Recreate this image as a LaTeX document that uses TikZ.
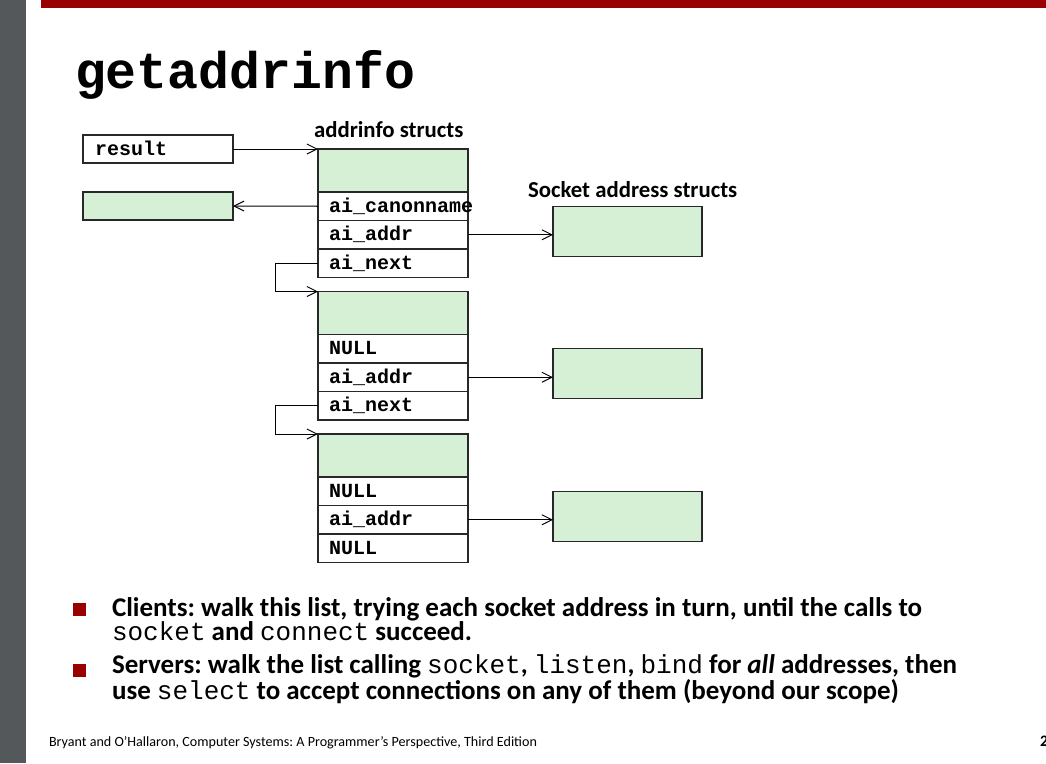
\documentclass[tikz,border=0pt]{standalone}
\usepackage{fontspec}
\setmainfont{Carlito}
\newfontfamily\codefont{Liberation Mono}
\usepackage{tikz}
\usetikzlibrary{positioning, arrows.meta}
\definecolor{boxgreen}{RGB}{213,240,212}
\definecolor{slidered}{RGB}{153,0,0}
\definecolor{sidegray}{RGB}{84,88,91}
\definecolor{boxline}{RGB}{40,40,40}
\newcommand{\code}[1]{{\codefont\mdseries\fontsize{26}{24}\selectfont #1}}
\frenchspacing

\begin{document}
\begin{tikzpicture}[x=1pt,y=-1pt,>={Straight Barb[length=10pt,width=10pt]},node distance=0pt,line width=1pt]
    \tikzstyle{every node}=[outer sep=0pt]
    \tikzstyle{cell}=[draw=boxline,line width=1.3pt,minimum height=28.5pt,inner xsep=11pt,inner ysep=0pt,text width=128pt,align=left,text height=14pt,text depth=2pt,font=\codefont\bfseries\fontsize{20}{20}\selectfont]
    \tikzstyle{hdr}=[draw=boxline,line width=1.3pt,fill=boxgreen,minimum width=150pt,minimum height=43pt,inner sep=0pt]
    \tikzstyle{sock}=[draw=boxline,line width=1.3pt,fill=boxgreen,minimum width=149pt,minimum height=50pt,inner sep=0pt]
    \tikzstyle{label}=[inner sep=0pt,anchor=base west,font=\bfseries\fontsize{22.8}{22.8}\selectfont]
    \tikzstyle{bulletsq}=[fill=slidered,minimum size=13pt,inner sep=0pt]
    \tikzstyle{bullet}=[inner sep=0pt,anchor=base west,align=left,font=\bfseries\fontsize{27}{24}\selectfont]
    \useasboundingbox (0,0) rectangle (1046,763);
    % slide frame
    \fill[sidegray] (0,0) rectangle (26,763);
    \fill[slidered] (41,0) rectangle (1046,8);
    \node[anchor=base west,inner sep=0pt,font=\codefont\bfseries\fontsize{51.5}{51.5}\selectfont] (title) at (75,88) {getaddrinfo};

    % pointers on the left
    \node[cell,anchor=north west,minimum height=28pt,inner xsep=12pt,text width=126pt] (result) at (83,135) {result};
    \node[hdr,anchor=north west,minimum height=28pt] (canon) at (83,192) {};

    % first addrinfo
    \node[hdr,anchor=north west] (hdra) at (318,149) {};
    \node[cell,below=of hdra]   (cnamea) {ai\_canonname};
    \node[cell,below=of cnamea] (addra)  {ai\_addr};
    \node[cell,below=of addra]  (nexta)  {ai\_next};
    % second addrinfo
    \node[hdr,below=14pt of nexta] (hdrb) {};
    \node[cell,below=of hdrb]  (nullb) {NULL};
    \node[cell,below=of nullb] (addrb) {ai\_addr};
    \node[cell,below=of addrb] (nextb) {ai\_next};
    % third addrinfo
    \node[hdr,below=14pt of nextb] (hdrc) {};
    \node[cell,below=of hdrc]  (nullc) {NULL};
    \node[cell,below=of nullc] (addrc) {ai\_addr};
    \node[cell,below=of addrc] (endc)  {NULL};

    % socket address structs
    \node[sock,right=85pt of addra,yshift=3.5pt] (socka) {};
    \node[sock,right=85pt of addrb,yshift=3.5pt] (sockb) {};
    \node[sock,right=85pt of addrc,yshift=3.5pt] (sockc) {};

    \node[label] (lblinfo) at (314,137) {addrinfo structs};
    \node[label] (lblsock) at (528,197) {Socket address structs};

    \draw[->] (result.east) -- (hdra.north west);
    \draw[->] (cnamea.west) -- (canon.east);
    \draw[->] (addra.east) -- (addra.east -| socka.west);
    \draw[->] (addrb.east) -- (addrb.east -| sockb.west);
    \draw[->] (addrc.east) -- (addrc.east -| sockc.west);
    \draw[->] (nexta.west) -- ++(-43,0) |- (hdrb.north west);
    \draw[->] (nextb.west) -- ++(-43,0) |- (hdrc.north west);

    % bullets
    \node[bulletsq] (bula) at (79.5,609.5) {};
    \node[bulletsq] (bulb) at (79.5,670) {};
    \node[bullet] (clients) at (112,640) {Clients: walk this list, trying each socket address in turn, until the calls to\\\code{socket} and \code{connect} succeed.};
    \node[bullet] (servers) at (112,699) {Servers: walk the list calling \code{socket}, \code{listen}, \code{bind} for \textit{all} addresses, then\\use \code{select} to accept connections on any of them (beyond our scope)};

    \node[anchor=base west,inner sep=0pt,font=\fontsize{14.1}{14.1}\selectfont] (footer) at (49,746) {Bryant and O’Hallaron, Computer Systems: A Programmer’s Perspective, Third Edition};
    \node[anchor=base west,inner sep=0pt,font=\bfseries\fontsize{16}{16}\selectfont] (pagenum) at (1040,746) {2};
\end{tikzpicture}
\end{document}
